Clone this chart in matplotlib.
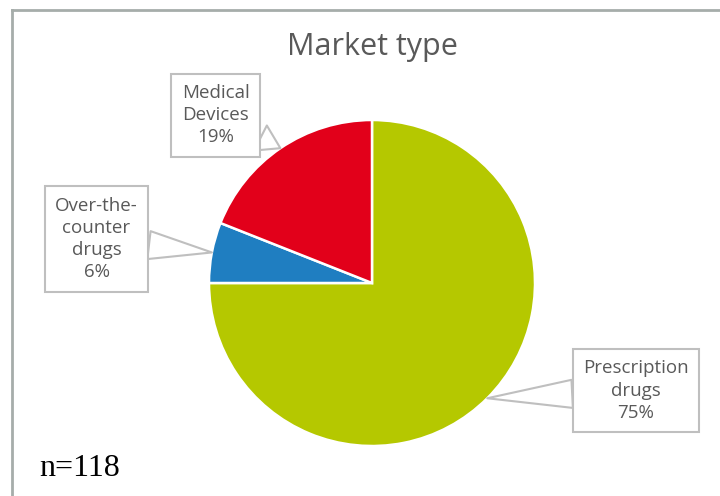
import numpy as np
import matplotlib.pyplot as plt
from matplotlib.lines import Line2D

plt.rcParams['font.family'] = ['Open Sans', 'DejaVu Sans']

# data
labels = ['Prescription\ndrugs', 'Over-the-\ncounter\ndrugs', 'Medical\nDevices']
shares = [75, 6, 19]
colors = ['#B5C800', '#1F7EC1', '#E2001A']
title = 'Market type'
n_note = 'n=118'

# label box centres (data units, pie radius = 1)
box_pos = [(1.62, -0.66), (-1.69, 0.27), (-0.96, 1.03)]
box_pad = [0.55, 0.55, 0.55]

fig = plt.figure(figsize=(7.2, 4.96), dpi=100)
ax = fig.add_axes([0, 0, 1, 1])

wedges, _ = ax.pie(shares, colors=colors, startangle=90, counterclock=False,
                   radius=1, center=(0, 0),
                   wedgeprops=dict(edgecolor='white', linewidth=1.8))
ax.set_xlim(-372 / 163, 348 / 163)
ax.set_ylim(-213 / 163, 283 / 163)
ax.set_aspect('equal')
ax.axis('off')

grey = '#BFBFBF'
txt = '#595959'
for w, lab, s, pos, pad in zip(wedges, labels, shares, box_pos, box_pad):
    ang = np.deg2rad((w.theta1 + w.theta2) / 2)
    tip = (np.cos(ang), np.sin(ang))
    ax.annotate(f'{lab}\n{s}%', xy=tip, xytext=pos, ha='center', va='center',
                fontsize=13.5, color=txt, linespacing=1.3,
                bbox=dict(boxstyle=f'square,pad={pad}', fc='white', ec=grey, lw=1.5),
                arrowprops=dict(arrowstyle='wedge,tail_width=1.5', fc='white',
                                ec=grey, lw=1.5, shrinkA=0, shrinkB=0))

ax.text(0, 1.445, title, ha='center', va='center', fontsize=22, color=txt)
ax.text(-2.04, -1.14, n_note, ha='left', va='center', fontsize=23,
        family=['Liberation Serif', 'DejaVu Serif'], color='black')

# outer frame (top and left edges visible)
bc = '#A6ADAA'
fig.add_artist(Line2D([12 / 720, 1], [1 - 10 / 496, 1 - 10 / 496],
                      transform=fig.transFigure, color=bc, lw=2))
fig.add_artist(Line2D([12 / 720, 12 / 720], [0, 1 - 10 / 496],
                      transform=fig.transFigure, color=bc, lw=2))

fig.savefig('out.png', dpi=100)
